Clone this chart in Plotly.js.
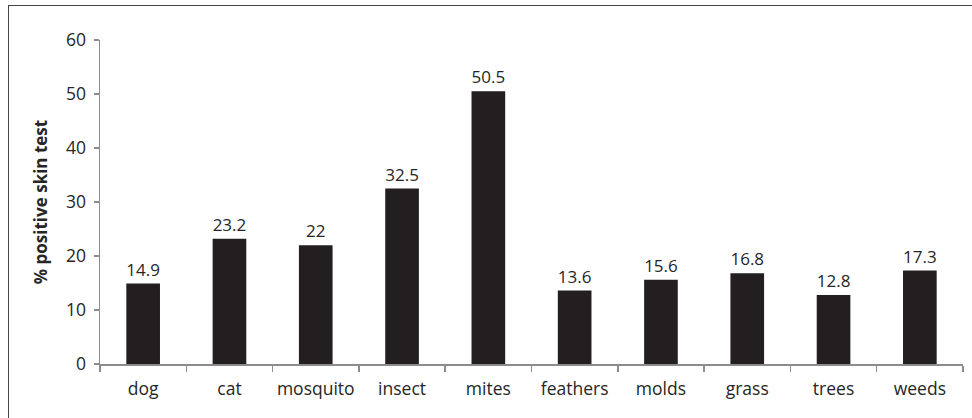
<!DOCTYPE html>
<html>
<head>
<meta charset="utf-8">
<script src="https://cdn.plot.ly/plotly-3.0.1.min.js"></script>
<style>
html,body{margin:0;padding:0;background:#fff;}
#wrap{position:relative;width:972px;height:418px;}
#chart{width:972px;height:418px;}
#frame{position:absolute;left:8px;top:5px;width:980px;height:420px;border-top:1.5px solid #444;border-left:1.5px solid #444;pointer-events:none;}
</style>
</head>
<body>
<div id="wrap"><div id="chart"></div><div id="frame"></div></div>
<script>
const categories = ["dog","cat","mosquito","insect","mites","feathers","molds","grass","trees","weeds"];
const values = [14.9, 23.2, 22, 32.5, 50.5, 13.6, 15.6, 16.8, 12.8, 17.3];
const yTicks = [0,10,20,30,40,50,60];

const font = "Open Sans, Noto Sans, sans-serif";
Plotly.newPlot("chart", [{
  type: "bar",
  x: categories,
  y: values,
  marker: {color: "#231f20"},
  text: values.map(String),
  texttemplate: "%{text}",
  textposition: "outside",
  textfont: {family: font, size: 17, color: "#262626"},
  cliponaxis: false,
  hoverinfo: "skip"
}], {
  width: 972, height: 418,
  margin: {l: 100, r: 9, t: 40, b: 54},
  paper_bgcolor: "#fff", plot_bgcolor: "#fff",
  bargap: 0.61,
  showlegend: false,
  font: {family: font, size: 17, color: "#262626"},
  xaxis: {
    type: "category",
    showline: true, linecolor: "#8c8c8c", linewidth: 1.5,
    ticks: "outside", tickson: "boundaries", ticklen: 6, tickcolor: "#8c8c8c", tickwidth: 1.5,
    tickfont: {family: font, size: 17.5, color: "#262626"},
    tickangle: 0,
    automargin: false,
    ticklabelstandoff: 8,
    showgrid: false, zeroline: false
  },
  yaxis: {
    range: [0, 60],
    tickvals: yTicks,
    ticktext: yTicks.map(String),
    showline: true, linecolor: "#8c8c8c", linewidth: 1.5,
    ticks: "outside", ticklen: 5, tickcolor: "#8c8c8c", tickwidth: 1.5,
    tickfont: {family: font, size: 17.5, color: "#262626"},
    ticklabelstandoff: 4,
    automargin: false,
    showgrid: false, zeroline: false,
    title: {text: "<b>% positive skin test</b>", font: {family: font, size: 17, color: "#262626"}, standoff: 14}
  }
}, {displayModeBar: false, staticPlot: true});
</script>
</body>
</html>
